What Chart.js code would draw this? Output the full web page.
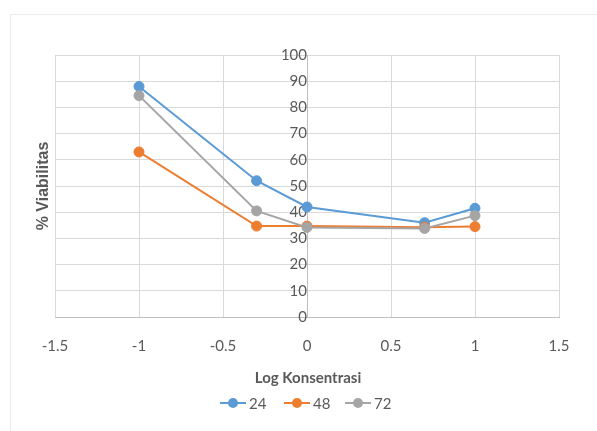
<!DOCTYPE html>
<html><head><meta charset="utf-8">
<script src="https://cdn.jsdelivr.net/npm/chart.js@4/dist/chart.umd.min.js"></script>
<style>html,body{margin:0;padding:0;background:#fff}#wrap{position:relative;width:597px;height:431px}</style>
</head><body><div id="wrap"><canvas id="c" width="597" height="431"></canvas></div>
<script>
const logKonsentrasi = [-1, -0.3, 0, 0.7, 1];
const viab24 = [88, 52, 42, 36, 41.5];
const viab48 = [63, 34.7, 34.7, 34.3, 34.5];
const viab72 = [84.5, 40.5, 34.2, 33.8, 38.7];
const seriesLabels = ['24', '48', '72'];
const seriesColors = ['#5B9BD5', '#ED7D31', '#A5A5A5'];
const xTickValues = [-1.5, -1, -0.5, 0, 0.5, 1, 1.5];
const yTickValues = [0, 10, 20, 30, 40, 50, 60, 70, 80, 90, 100];
const xTitle = 'Log Konsentrasi';
const yTitle = '% Viabilitas';

const NARROW = 'Lato, "Liberation Sans Narrow", "DejaVu Sans Condensed", sans-serif';
const TXT = '#595959';

function pts(ys) { return logKonsentrasi.map((x, i) => ({x: x, y: ys[i]})); }
const allSeries = [viab24, viab48, viab72];

const datasets = allSeries.map((ys, i) => ({
  label: seriesLabels[i],
  data: pts(ys),
  showLine: true,
  borderColor: seriesColors[i],
  backgroundColor: seriesColors[i],
  pointBackgroundColor: seriesColors[i],
  pointBorderColor: seriesColors[i],
  borderWidth: 2,
  pointRadius: 5,
  pointBorderWidth: 1,
  tension: 0,
  order: 3 - i
}));

const decor = {
  id: 'decor',
  beforeDraw(chart) {
    const ctx = chart.ctx;
    ctx.save();
    ctx.fillStyle = '#fff';
    ctx.fillRect(0, 0, chart.width, chart.height);
    ctx.strokeStyle = '#ececec';
    ctx.lineWidth = 1;
    ctx.strokeRect(10.5, 14.5, 600, 430);
    ctx.restore();
  },
  afterDraw(chart) {
    const ctx = chart.ctx;
    const a = chart.chartArea;
    ctx.save();
    ctx.fillStyle = TXT;
    ctx.font = 'bold 16px "Liberation Sans", Arial, sans-serif';
    ctx.textAlign = 'center';
    ctx.textBaseline = 'middle';
    ctx.translate(44, (a.top + a.bottom) / 2);
    ctx.rotate(-Math.PI / 2);
    ctx.fillText(yTitle, 0, 0);
    ctx.restore();
    ctx.save();
    ctx.fillStyle = TXT;
    ctx.font = 'bold 15px ' + NARROW;
    ctx.textAlign = 'center';
    ctx.textBaseline = 'middle';
    ctx.fillText(xTitle, 308, 378);
    const starts = [220, 284, 345];
    ctx.font = '15px ' + NARROW;
    ctx.textAlign = 'left';
    seriesLabels.forEach((lab, i) => {
      const x0 = starts[i], y = 403;
      ctx.strokeStyle = seriesColors[i];
      ctx.lineWidth = 2;
      ctx.beginPath(); ctx.moveTo(x0, y); ctx.lineTo(x0 + 26, y); ctx.stroke();
      ctx.fillStyle = seriesColors[i];
      ctx.beginPath(); ctx.arc(x0 + 13, y, 5, 0, Math.PI * 2); ctx.fill();
      ctx.fillStyle = TXT;
      ctx.fillText(lab, x0 + 29, y + 1);
    });
    ctx.restore();
  }
};

new Chart(document.getElementById('c'), {
  type: 'scatter',
  data: { datasets: datasets },
  options: {
    responsive: false,
    animation: false,
    devicePixelRatio: 1,
    layout: { padding: { left: 55, right: 38, top: 55, bottom: 0 } },
    plugins: { legend: { display: false }, tooltip: { enabled: false } },
    scales: {
      x: {
        type: 'linear',
        position: 'bottom',
        min: -1.5, max: 1.5,
        afterBuildTicks: s => { s.ticks = xTickValues.map(v => ({value: v})); },
        afterFit: s => { s.height = 114; },
        ticks: { color: TXT, font: { family: NARROW, size: 15 }, padding: 20, callback: v => String(v), maxRotation: 0 },
        grid: { color: '#d9d9d9', drawTicks: false, lineWidth: 1 },
        border: { display: true, color: '#bfbfbf', width: 1 }
      },
      y: {
        type: 'linear',
        position: { x: 0 },
        min: 0, max: 100,
        afterBuildTicks: s => { s.ticks = yTickValues.map(v => ({value: v})); },
        ticks: { color: TXT, font: { family: NARROW, size: 15 }, padding: 9, callback: v => String(v) },
        grid: { color: '#d9d9d9', drawTicks: false, lineWidth: 1 },
        border: { display: true, color: '#bfbfbf', width: 1 }
      }
    }
  },
  plugins: [decor]
});
</script>
</body></html>
